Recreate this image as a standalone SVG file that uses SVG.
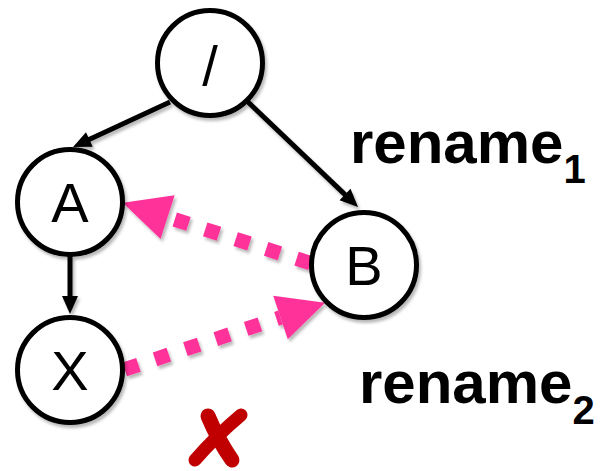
<svg xmlns="http://www.w3.org/2000/svg" width="613" height="471" viewBox="0 0 613 471">
  <style>
    .node circle { fill: #ffffff; stroke: #000000; stroke-width: 5; }
    .node text { font-family: "Liberation Sans", Arial, sans-serif; font-size: 56px; fill: #000000; text-anchor: middle; }
    .edge { fill: none; stroke: #000000; stroke-width: 5; marker-end: url(#head); }
    .rename { fill: none; stroke: #ff3399; stroke-width: 14.5; stroke-dasharray: 14.5 17.5; marker-end: url(#pinkhead); }
    .label { font-family: "Liberation Sans", Arial, sans-serif; font-weight: bold; fill: #000000; }
  </style>
  <defs>
    <marker id="head" markerUnits="userSpaceOnUse" markerWidth="18" markerHeight="16" refX="8" refY="8" orient="auto" overflow="visible">
      <path d="M0,0 L18,8 L0,16 Z" fill="#000000"/>
    </marker>
    <marker id="pinkhead" markerUnits="userSpaceOnUse" markerWidth="47" markerHeight="46" refX="0" refY="23" orient="auto" overflow="visible">
      <path d="M0,0 L47,23 L0,46 Z" fill="#ff3399"/>
    </marker>
    <filter id="shadow" x="-20%" y="-20%" width="140%" height="140%">
      <feDropShadow dx="2" dy="3" stdDeviation="1.8" flood-color="#000000" flood-opacity="0.28"/>
    </filter>
  </defs>

  <!-- connectors: tree edges and the two rename moves -->
  <g id="connectors" filter="url(#shadow)">
    <line class="edge" x1="170" y1="102" x2="82.1" y2="142.8"/>
    <line class="edge" x1="248" y1="102" x2="350.8" y2="200.1"/>
    <line class="edge" x1="70" y1="256" x2="70" y2="304"/>
    <line class="rename" x1="310.4" y1="263.1" x2="167.6" y2="217.2"/>
    <line class="rename" x1="124.7" y1="369.4" x2="280.5" y2="317.5"/>
  </g>

  <!-- tree nodes -->
  <g id="node-root" class="node" filter="url(#shadow)">
    <circle cx="210" cy="63" r="52.5"/>
    <text x="210" y="85">/</text>
  </g>
  <g id="node-A" class="node" filter="url(#shadow)">
    <circle cx="70" cy="202" r="52.5"/>
    <text x="70" y="222">A</text>
  </g>
  <g id="node-B" class="node" filter="url(#shadow)">
    <circle cx="364" cy="265" r="52.5"/>
    <text x="364" y="285">B</text>
  </g>
  <g id="node-X" class="node" filter="url(#shadow)">
    <circle cx="70" cy="370" r="52.5"/>
    <text x="70" y="390">X</text>
  </g>

  <!-- operation labels -->
  <g id="label-rename1">
    <text class="label" x="350" y="163" font-size="60">rename<tspan font-size="40" dy="20">1</tspan></text>
  </g>
  <g id="label-rename2">
    <text class="label" x="359" y="403" font-size="60">rename<tspan font-size="40" dy="21">2</tspan></text>
  </g>

  <!-- red cross mark -->
  <g id="cross" fill="none" stroke="#c00000" stroke-linecap="round" stroke-linejoin="round">
    <path d="M208,416 Q218,440 232,460" stroke-width="15"/>
    <path d="M241,415 Q215,437 195,460" stroke-width="13"/>
  </g>
</svg>
